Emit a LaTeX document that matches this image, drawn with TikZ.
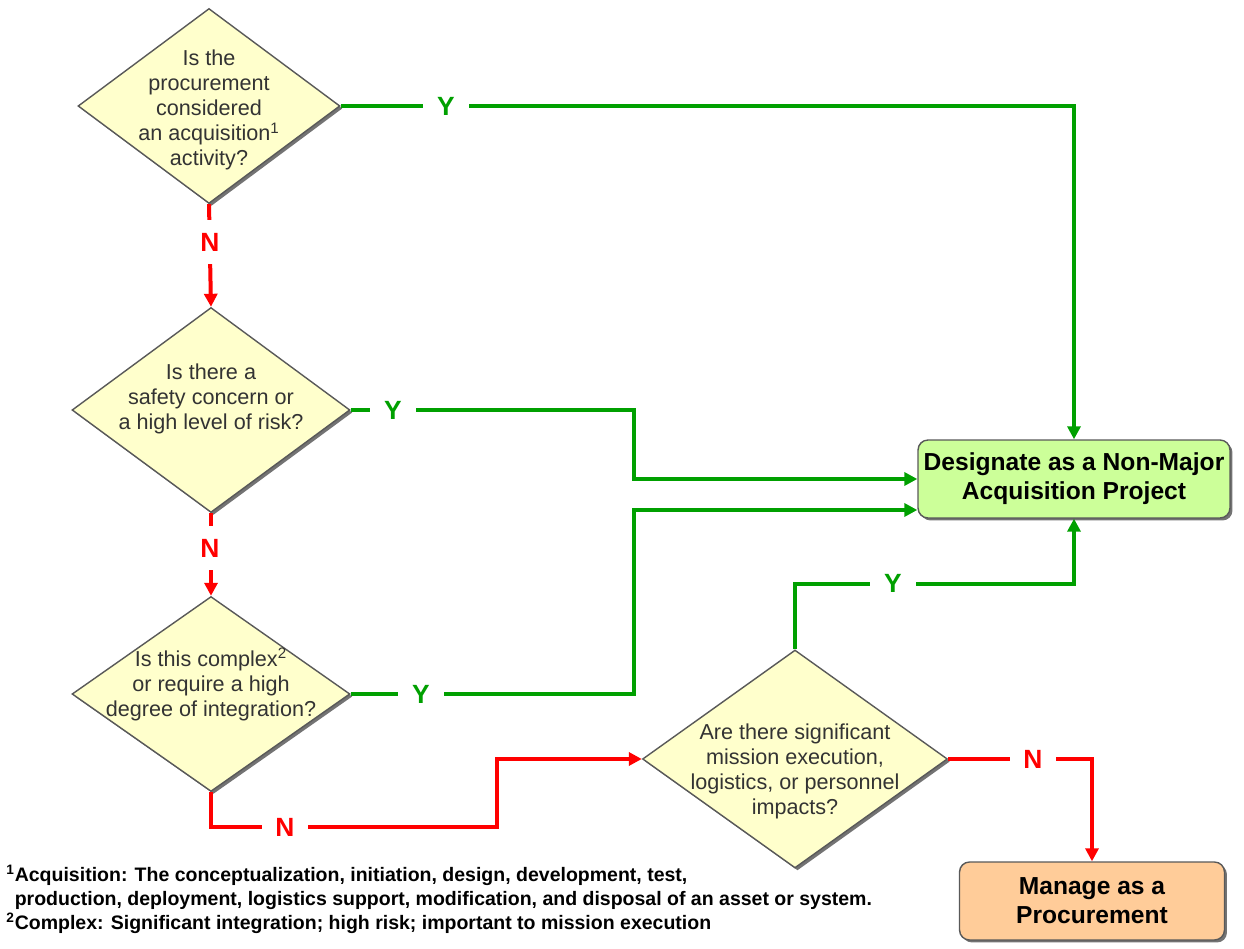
\documentclass[tikz,border=0pt]{standalone}
\usepackage{fontspec}
\setmainfont{Liberation Sans}
\usetikzlibrary{shapes.geometric,arrows.meta,shadows}
\definecolor{ygreen}{HTML}{00A000}
\definecolor{nred}{HTML}{FF0000}
\definecolor{qfill}{HTML}{FFFFCC}
\definecolor{pfill}{HTML}{CCFF99}
\definecolor{mfill}{HTML}{FFCC99}
\definecolor{qtext}{HTML}{333333}
\newcommand{\qlines}[2]{\raisebox{#1}[0.5cm][0.5cm]{\begin{tabular}{@{}c@{}}#2\end{tabular}}}
\begin{document}
\begin{tikzpicture}[x=0.02cm,y=-0.02cm,
    question/.style={diamond,aspect=1.4,draw=black!65,line width=0.8pt,fill=qfill,text=qtext,inner sep=-0.3cm,font=\fontsize{12.3}{14.2}\selectfont,drop shadow={shadow xshift=0.05cm,shadow yshift=-0.05cm,fill=black!55,opacity=1}},
    result/.style={rectangle,rounded corners=0.2cm,draw=black!65,line width=0.8pt,align=center,inner sep=1pt,minimum height=1.56cm,font=\bfseries\fontsize{14}{16.5}\selectfont,drop shadow={shadow xshift=0.05cm,shadow yshift=-0.05cm,fill=black!55,opacity=1}},
    yesline/.style={draw=ygreen,line width=0.08cm,-{Triangle[length=0.26cm,width=0.26cm]}},
    noline/.style={draw=nred,line width=0.08cm,-{Triangle[length=0.26cm,width=0.26cm]}},
    yeslabel/.style={fill=white,text=ygreen,font=\bfseries\fontsize{15}{15}\selectfont,minimum width=0.92cm,minimum height=0.9cm,inner sep=0pt},
    nolabel/.style={yeslabel,text=nred}]
    \useasboundingbox (0,0) rectangle (1244,949);
    \node[question,minimum width=5.24cm,minimum height=3.9cm] (acq) at (209,106) {\qlines{-0.2cm}{Is the\\procurement\\considered\\an acquisition\textsuperscript{1}\\activity?}};
    \node[question,minimum width=5.56cm,minimum height=4.1cm] (risk) at (211,410) {\qlines{0.1cm}{Is there a\\safety concern or\\a high level of risk?}};
    \node[question,minimum width=5.56cm,minimum height=3.9cm] (cplx) at (211,694) {\qlines{0.06cm}{Is this complex\textsuperscript{2}\\or require a high\\degree of integration?}};
    \node[question,minimum width=6.1cm,minimum height=4.36cm] (impact) at (795,759) {\qlines{-0.36cm}{Are there significant\\mission execution,\\logistics, or personnel\\impacts?}};
    \node[result,fill=pfill,minimum width=6.24cm] (nonmajor) at (1074,479) {Designate as a Non-Major\\Acquisition Project};
    \node[result,fill=mfill,minimum width=5.3cm] (manage) at (1092,901) {Manage as a\\Procurement};
    \coordinate (nbend) at (497,827);
    \draw[yesline] (acq.east) -| (nonmajor.north);
    \draw[yesline] (risk.east) -- ++(283,0) |- (nonmajor.west);
    \draw[yesline] (cplx.east) -- ++(283,0) |- ([yshift=-0.62cm]nonmajor.west);
    \draw[yesline] (impact.north) -- ++(0,-65) -| (nonmajor.south);
    \draw[noline] (acq.south) -- (risk.north);
    \draw[noline] (risk.south) -- (cplx.north);
    \draw[noline] (cplx.south) |- (nbend) |- (impact.west);
    \draw[noline] (impact.east) -| (manage.north);
    \node[yeslabel] (y1) at (446,106) {Y};
    \node[yeslabel] (y2) at (393,410) {Y};
    \node[yeslabel] (y3) at (421,694) {Y};
    \node[yeslabel] (y4) at (893,583) {Y};
    \node[nolabel] (n1) at (210,242) {N};
    \node[nolabel] (n2) at (210,548) {N};
    \node[nolabel] (n3) at (285,827) {N};
    \node[nolabel] (n4) at (1033,759) {N};
    \node[anchor=base west,align=left,inner sep=0pt,font=\bfseries\fontsize{11.1}{13.6}\selectfont] (notes) at (6,929) {\textsuperscript{1}Acquisition: The conceptualization, initiation, design, development, test,\\\phantom{\textsuperscript{1}}production, deployment, logistics support, modification, and disposal of an asset or system.\\\textsuperscript{2}Complex: Significant integration; high risk; important to mission execution};
\end{tikzpicture}
\end{document}
